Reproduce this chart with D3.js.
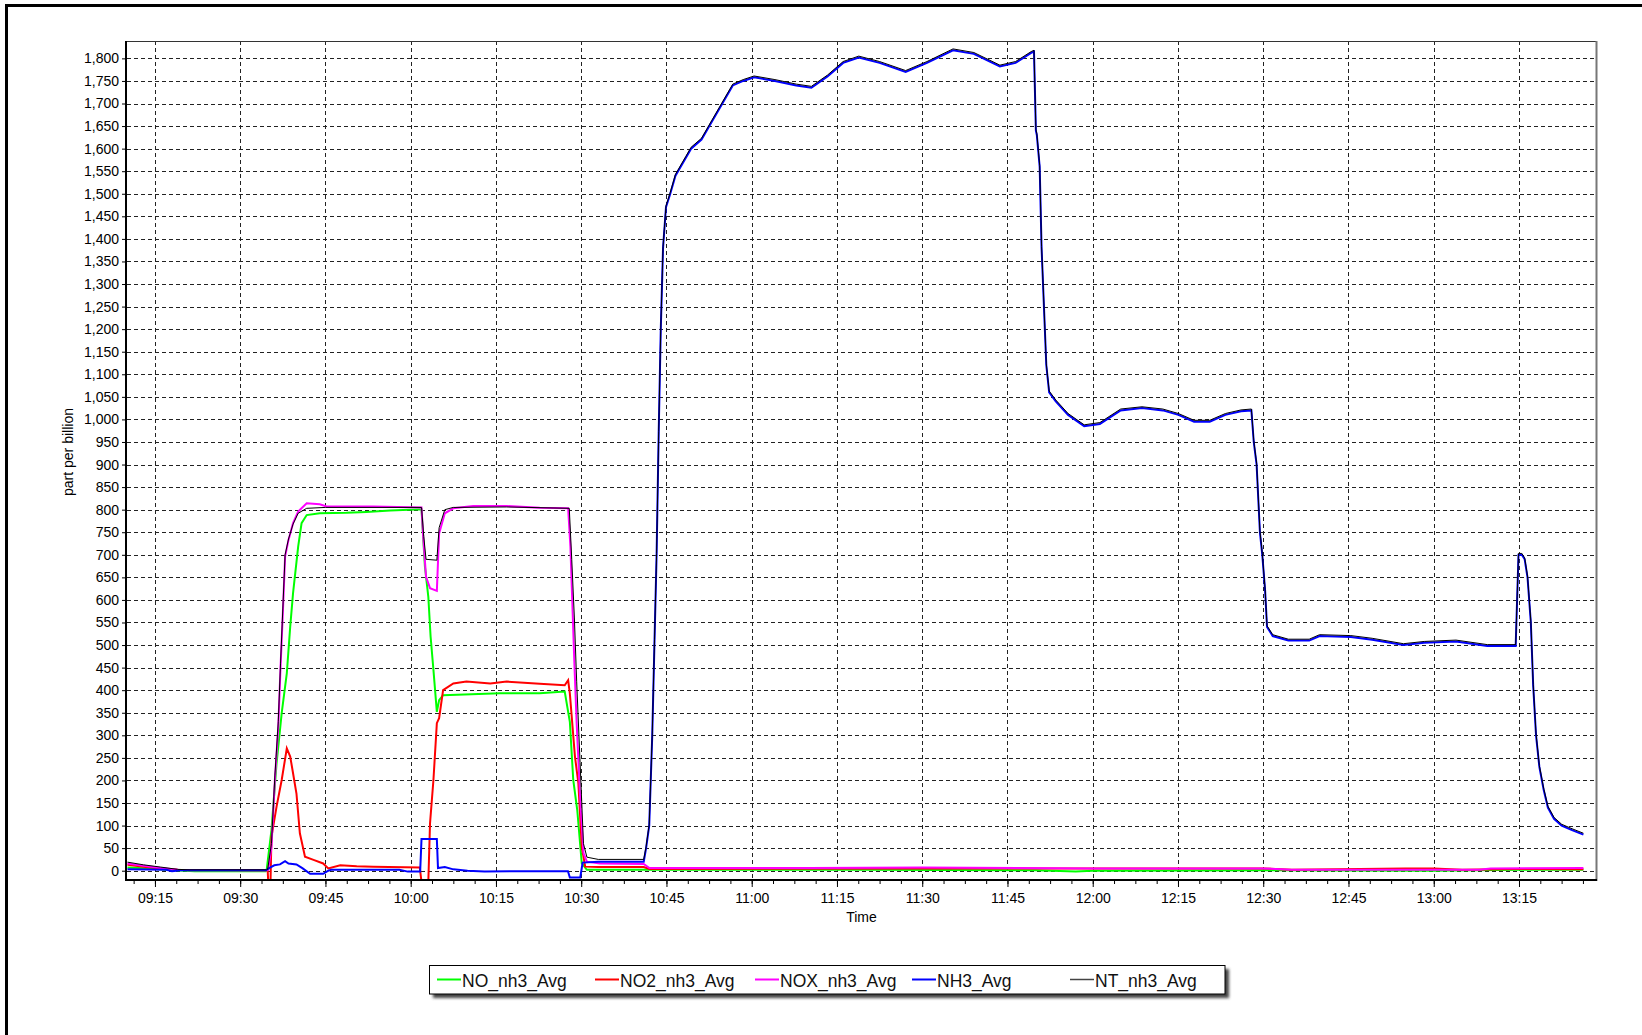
<!DOCTYPE html>
<html>
<head>
	<meta charset="utf-8">
	<title>nh3</title>
	<script src="https://cdn.jsdelivr.net/npm/d3@7/dist/d3.min.js"></script>
	<style type="text/css">
		body{
			margin: 0;
			padding: 0;
			background: #fff;
		}
		svg{
			display: block;
			font-family: "Liberation Sans", Arial, sans-serif;
		}
	</style>
</head>
<body>
	<svg id="svg" width="1642" height="1035"></svg>
</body>
<script type="text/javascript">
	// series (time of day, part per billion)
	let noTime = ["09:10:10","09:14:00","09:17:00","09:22:00","09:34:30","09:34:39","09:35:30","09:36:24","09:37:18","09:38:12","09:38:48","09:39:18","09:40:12","09:40:48","09:41:42","09:44:00","09:48:42","09:52:12","09:56:24","10:01:54","10:02:30","10:03:06","10:03:30","10:04:00","10:04:36","10:05:00","10:05:42","10:15:42","10:22:42","10:27:06","10:28:00","10:28:36","10:29:18","10:30:06","10:31:00","10:41:00","11:20:00","11:50:00","11:57:00","12:00:00","12:30:00","13:00:00","13:15:00","13:26:20"];
	let noVals = [7,5,2,-1,-1,1,90,238,349,437,541,615,718,770,788,792,793,795,798,801,674,607,519,445,352,378,389,393,393,397,330,201,135,16,2,2,2,1,-2,0,1,0,2,2];

	let no2Time = ["09:10:10","09:13:00","09:16:00","09:19:00","09:34:50","09:34:56","09:35:20","09:35:30","09:36:24","09:37:18","09:38:12","09:38:48","09:39:18","09:39:54","09:40:30","09:41:24","09:42:54","09:44:36","09:45:30","09:47:36","09:50:30","09:53:24","10:01:36","10:01:54","10:03:06","10:03:24","10:04:00","10:04:36","10:05:00","10:05:42","10:07:30","10:09:48","10:14:00","10:16:54","10:22:42","10:27:06","10:27:42","10:28:00","10:28:54","10:29:30","10:30:06","10:30:42","10:33:00","10:41:00","10:42:00","11:30:00","12:30:00","12:35:00","12:55:00","13:00:00","13:05:00","13:15:00","13:26:20"];
	let no2Vals = [13,9,5,2,1,-25,-25,75,142,201,271,253,216,171,83,31,24,16,5,12,10,9,7,-25,-25,105,201,327,338,400,415,419,415,419,414,411,422,393,253,194,53,9,8,8,4,5,5,2,5,5,2,4,3];

	let noxTime = ["09:10:10","09:13:00","09:16:00","09:19:00","09:21:00","09:34:50","09:34:56","09:35:30","09:36:06","09:36:42","09:37:06","09:37:30","09:37:54","09:38:30","09:39:18","09:40:12","09:41:42","09:44:00","09:45:12","09:53:24","10:01:54","10:02:12","10:02:42","10:03:24","10:04:36","10:05:00","10:06:00","10:07:30","10:11:00","10:16:54","10:22:42","10:27:42","10:28:06","10:28:30","10:28:48","10:29:12","10:29:48","10:30:24","10:31:00","10:33:18","10:41:00","10:42:00","11:10:00","11:30:00","12:00:00","12:30:00","12:35:00","13:08:00","13:10:00","13:26:20"];
	let noxVals = [16,11,6,2,1,1,2,53,201,319,452,570,696,733,770,796,814,812,807,807,805,740,651,626,620,747,792,803,808,808,804,803,718,570,459,327,164,39,20,16,15,6,6,7,5,5,2,2,5,6];

	let nh3Time = ["09:10:10","09:17:00","09:18:00","09:19:30","09:34:30","09:35:15","09:36:00","09:37:00","09:37:54","09:38:30","09:39:54","09:41:00","09:42:18","09:44:36","09:45:30","09:46:00","09:58:00","09:59:30","10:01:40","10:01:54","10:04:36","10:04:48","10:06:00","10:07:30","10:10:00","10:13:00","10:20:00","10:27:40","10:28:00","10:29:50","10:30:15","10:33:00","10:41:00","10:41:25","10:41:58","10:42:30","10:42:54","10:43:16","10:43:38","10:44:00","10:44:24","10:44:55","10:45:40","10:46:35","10:48:25","10:49:20","10:51:10","10:53:00","10:54:50","10:56:40","10:58:30","11:00:25","11:04:05","11:07:50","11:10:30","11:13:20","11:16:05","11:18:50","11:22:30","11:27:05","11:30:50","11:35:25","11:39:05","11:43:40","11:46:25","11:49:10","11:49:40","11:50:00","11:50:10","11:50:40","11:51:00","11:51:25","11:51:50","11:52:20","11:53:30","11:55:40","11:58:30","12:01:15","12:04:55","12:08:40","12:12:20","12:15:05","12:17:50","12:20:35","12:23:20","12:26:05","12:27:55","12:28:20","12:28:50","12:29:25","12:29:50","12:30:20","12:30:40","12:31:40","12:34:25","12:38:05","12:39:55","12:45:25","12:49:10","12:54:40","12:58:20","13:03:55","13:09:25","13:14:25","13:14:55","13:15:30","13:16:00","13:16:30","13:17:05","13:17:30","13:18:00","13:18:35","13:19:20","13:20:05","13:21:10","13:22:30","13:24:20","13:26:20"];
	let nh3Vals = [3,2,-1,1,1,7,12,14,21,16,14,5,-7,-7,0,2,2,-2,-2,70,70,6,8,3,0,-2,-1,-1,-15,-15,18,20,20,50,100,300,510,700,970,1200,1380,1470,1500,1540,1580,1600,1620,1660,1700,1740,1750,1758,1750,1740,1735,1760,1790,1802,1790,1770,1790,1818,1810,1782,1790,1812,1815,1640,1630,1560,1380,1250,1120,1060,1040,1010,985,990,1020,1025,1020,1010,995,995,1010,1018,1020,950,900,750,700,620,540,520,510,510,520,518,512,500,505,508,498,498,700,700,690,650,550,410,300,230,180,140,115,100,90,80];

	let ntTime = ["09:10:10","09:13:00","09:16:00","09:19:00","09:21:00","09:34:40","09:34:50","09:35:30","09:36:06","09:36:42","09:37:06","09:37:30","09:37:54","09:38:30","09:39:18","09:40:12","09:41:42","09:45:00","10:01:54","10:02:18","10:02:42","10:04:36","10:05:00","10:06:00","10:07:30","10:16:54","10:27:54","10:28:20","10:28:48","10:29:12","10:29:48","10:30:24","10:31:00","10:33:00","10:41:00","10:41:25","10:41:58","10:42:30","10:42:54","10:43:16","10:43:38","10:44:00","10:44:24","10:44:55","10:45:40","10:46:35","10:48:25","10:49:20","10:51:10","10:53:00","10:54:50","10:56:40","10:58:30","11:00:25","11:04:05","11:07:50","11:10:30","11:13:20","11:16:05","11:18:50","11:22:30","11:27:05","11:30:50","11:35:25","11:39:05","11:43:40","11:46:25","11:49:10","11:49:40","11:50:00","11:50:10","11:50:40","11:51:00","11:51:25","11:51:50","11:52:20","11:53:30","11:55:40","11:58:30","12:01:15","12:04:55","12:08:40","12:12:20","12:15:05","12:17:50","12:20:35","12:23:20","12:26:05","12:27:55","12:28:20","12:28:50","12:29:25","12:29:50","12:30:20","12:30:40","12:31:40","12:34:25","12:38:05","12:39:55","12:45:25","12:49:10","12:54:40","12:58:20","13:03:55","13:09:25","13:14:25","13:14:55","13:15:30","13:16:00","13:16:30","13:17:05","13:17:30","13:18:00","13:18:35","13:19:20","13:20:05","13:21:10","13:22:30","13:24:20","13:26:20"];
	let ntVals = [19,13,8,3,2,2,3,60,210,330,460,580,700,735,768,792,803,805,805,740,690,688,760,800,805,806,803,690,560,420,240,60,30,25,25,53,103,303,513,703,973,1203,1383,1473,1503,1543,1583,1603,1623,1663,1703,1743,1753,1761,1753,1743,1738,1763,1793,1805,1793,1773,1793,1821,1813,1785,1793,1815,1818,1643,1633,1563,1383,1253,1123,1063,1043,1013,988,993,1023,1028,1023,1013,998,998,1013,1021,1023,953,903,753,703,623,543,523,513,513,523,521,515,503,508,511,501,501,703,703,693,653,553,413,303,233,183,143,118,103,93,83];

	let seriesNames = ["NO_nh3_Avg","NO2_nh3_Avg","NOX_nh3_Avg","NH3_Avg","NT_nh3_Avg"];
	let seriesColors = ["#00ff00","#ff0000","#ff00ff","#0000ff","#000000"];
	let yTicks = d3.range(0, 1801, 50);

	let parseTime = d3.timeParse("%H:%M:%S");
	let series = [
		{time:noTime, vals:noVals},
		{time:no2Time, vals:no2Vals},
		{time:noxTime, vals:noxVals},
		{time:nh3Time, vals:nh3Vals},
		{time:ntTime, vals:ntVals}
	].map(function(s,i){
		return {
			name:seriesNames[i],
			color:seriesColors[i],
			points:s.time.map(function(t,j){ return {t:parseTime(t), v:s.vals[j]}; })
		};
	});

	var svg = d3.select('#svg');
	// plot box (window.top is reserved, hence the prefixes)
	var pLeft = 127, pRight = 1596, pTop = 41, pBottom = 880;

	// outer window frame (only top and left edges are inside the picture)
	svg.append('rect')
		.attr('x',6.5).attr('y',5.5)
		.attr('width',3000).attr('height',3000)
		.style('fill','none')
		.style('stroke','#000')
		.style('stroke-width',3);

	var x = d3.scaleTime()
		.domain([parseTime("09:10:05"), parseTime("13:28:33")])
		.range([pLeft, pRight]);
	var y = d3.scaleLinear()
		.domain([-20.6, 1838.5])
		.range([pBottom, pTop]);

	var defs = svg.append('defs');
	defs.append('clipPath').attr('id','plotClip')
		.append('rect')
		.attr('x',pLeft).attr('y',pTop)
		.attr('width',pRight-pLeft).attr('height',pBottom-pTop);

	// grid
	var xMajor = d3.timeMinute.every(15).range(parseTime("09:15:00"), parseTime("13:16:00"));
	var grid = svg.append('g').attr('class','grid')
		.style('stroke','#222')
		.style('stroke-width',1)
		.style('stroke-dasharray','4,3');
	grid.selectAll('line.h').data(yTicks).enter().append('line')
		.attr('class','h')
		.attr('x1',pLeft).attr('x2',pRight)
		.attr('y1',d=>Math.round(y(d))+0.5).attr('y2',d=>Math.round(y(d))+0.5);
	grid.selectAll('line.v').data(xMajor).enter().append('line')
		.attr('class','v')
		.attr('x1',d=>Math.round(x(d))+0.5).attr('x2',d=>Math.round(x(d))+0.5)
		.attr('y1',pTop).attr('y2',pBottom);

	// lines
	var line = d3.line()
		.x(d=>x(d.t))
		.y(d=>y(d.v));
	var plot = svg.append('g').attr('clip-path','url(#plotClip)');
	series.forEach(function(s){
		plot.append('path')
			.datum(s.points)
			.attr('d',line)
			.style('fill','none')
			.style('stroke',s.color)
			.style('stroke-width',s.name=="NT_nh3_Avg"?1:2)
			.style('stroke-linejoin','miter');
	});

	// frame
	svg.append('line').attr('x1',pLeft).attr('x2',pRight).attr('y1',pTop+0.5).attr('y2',pTop+0.5)
		.style('stroke','#333').style('stroke-width',1);
	svg.append('line').attr('x1',pRight+0.5).attr('x2',pRight+0.5).attr('y1',pTop).attr('y2',pBottom+1)
		.style('stroke','#777').style('stroke-width',2);

	// y axis, minor ticks first
	var yMinor = d3.range(-20, 1831, 10);
	svg.append('g')
		.attr('transform','translate('+pLeft+',0)')
		.call(d3.axisLeft(y).tickValues(yMinor).tickSize(2).tickFormat(''))
		.call(g=>g.select('.domain').remove());
	var yAxis = svg.append('g')
		.attr('transform','translate('+pLeft+',0)')
		.call(d3.axisLeft(y).tickValues(yTicks).tickSize(5).tickPadding(3).tickFormat(d3.format(',')));
	yAxis.select('.domain').remove();
	yAxis.selectAll('text').style('font-size','14px').style('fill','#000');

	// x axis
	var xMinor = d3.range(0, 70).map(i=>new Date(parseTime("09:11:15").getTime()+i*225000))
		.filter(d=>d<=x.domain()[1]);
	svg.append('g')
		.attr('transform','translate(0,'+pBottom+')')
		.call(d3.axisBottom(x).tickValues(xMinor).tickSize(4).tickFormat(''))
		.call(g=>g.select('.domain').remove());
	var xAxis = svg.append('g')
		.attr('transform','translate(0,'+pBottom+')')
		.call(d3.axisBottom(x).tickValues(xMajor).tickSize(7).tickPadding(6).tickFormat(d3.timeFormat('%H:%M')));
	xAxis.select('.domain').remove();
	xAxis.selectAll('text').style('font-size','14px').style('fill','#000');

	svg.append('line').attr('x1',pLeft-1).attr('x2',pLeft-1).attr('y1',pTop).attr('y2',pBottom+1)
		.style('stroke','#000').style('stroke-width',2);
	svg.append('line').attr('x1',pLeft-2).attr('x2',pRight+1).attr('y1',pBottom).attr('y2',pBottom)
		.style('stroke','#000').style('stroke-width',2);

	// axis titles
	svg.append('text')
		.attr('transform','translate(73,452) rotate(-90)')
		.style('text-anchor','middle')
		.style('font-size','14px')
		.text('part per billion');
	svg.append('text')
		.attr('x',(pLeft+pRight)/2).attr('y',922)
		.style('text-anchor','middle')
		.style('font-size','14px')
		.text('Time');

	// legend
	var filter = defs.append('filter').attr('id','shadow')
		.attr('x','-5%').attr('y','-50%').attr('width','110%').attr('height','200%');
	filter.append('feGaussianBlur').attr('stdDeviation',1.5);
	var legend = svg.append('g').attr('class','legend');
	legend.append('rect')
		.attr('x',433).attr('y',969).attr('width',796).attr('height',29)
		.style('fill','#444').attr('filter','url(#shadow)');
	legend.append('rect')
		.attr('x',429.5).attr('y',965.5).attr('width',795.5).attr('height',28.5)
		.style('fill','#fff').style('stroke','#000').style('stroke-width',1);
	var legendX = [437,595,755,912,1070];
	series.forEach(function(s,i){
		var item = legend.append('g').attr('transform','translate('+legendX[i]+',0)');
		item.append('line')
			.attr('x1',0).attr('x2',24).attr('y1',979.5).attr('y2',979.5)
			.style('stroke',s.name=="NT_nh3_Avg"?'#444':s.color)
			.style('stroke-width',s.name=="NT_nh3_Avg"?1.5:2);
		item.append('text')
			.attr('x',25).attr('y',987)
			.style('font-size','17.5px')
			.style('fill','#111')
			.text(s.name);
	});
</script>
</html>
